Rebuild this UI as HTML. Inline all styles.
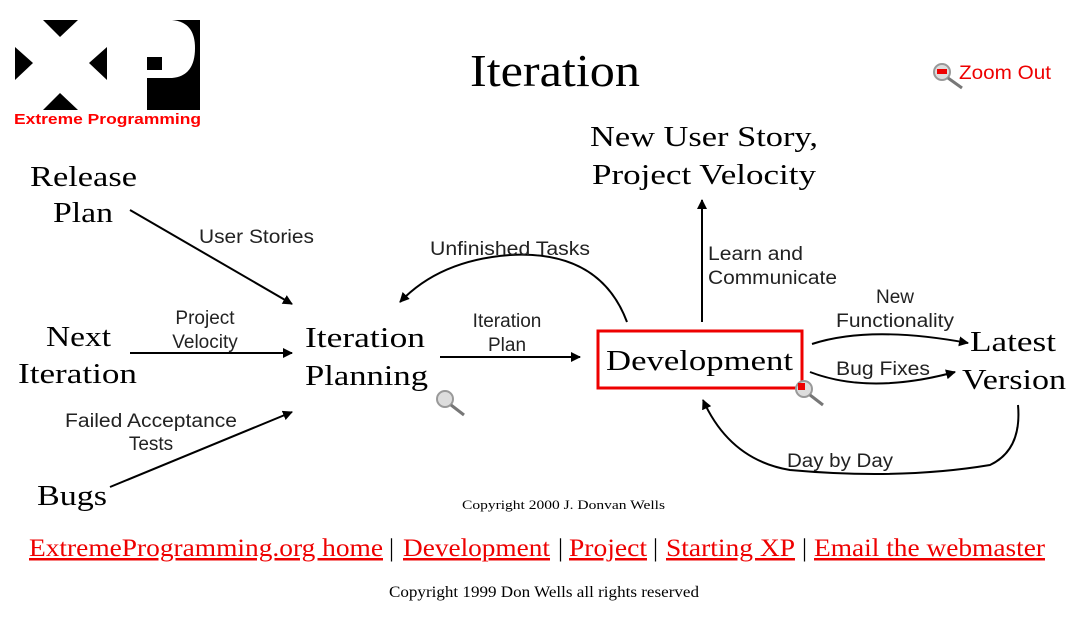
<!DOCTYPE html>
<html><head><meta charset="utf-8"><style>
html,body{margin:0;padding:0;background:#fff;width:1068px;height:623px;overflow:hidden}
svg{position:absolute;left:0;top:0}
.s{font-family:"Liberation Serif",serif;fill:#000}
.a{font-family:"Liberation Sans",sans-serif;fill:#222;font-size:19px}
</style></head><body>
<svg width="1068" height="623" viewBox="0 0 1068 623">
<defs><marker id="ar" markerWidth="10" markerHeight="10" refX="9" refY="5" orient="auto" markerUnits="userSpaceOnUse"><path d="M0,0 L10,5 L0,10 z" fill="#000"/></marker></defs>
<!-- logo -->
<polygon points="43,20 78,20 60,37" fill="#000"/>
<polygon points="15,47 15,80 33,63" fill="#000"/>
<polygon points="107,47 107,80 89,63" fill="#000"/>
<polygon points="43,110 78,110 60,93" fill="#000"/>
<rect x="147" y="20" width="53" height="90" fill="#000"/>
<path d="M147,20 L172,20 Q195,22 195,48 Q195,76 172,78 L147,78 Z" fill="#fff"/>
<rect x="147" y="57" width="15" height="13" fill="#000"/>
<text x="14" y="124" font-family="Liberation Sans,sans-serif" font-weight="bold" font-size="15" fill="#f00" textLength="187" lengthAdjust="spacingAndGlyphs">Extreme Programming</text>
<text class="s" x="470" y="86" font-size="46" textLength="170" lengthAdjust="spacingAndGlyphs">Iteration</text>
<!-- zoom out -->
<circle cx="942" cy="72" r="8" fill="#ddd" stroke="#999" stroke-width="2"/><rect x="937" y="69" width="10" height="5" fill="#e00"/><line x1="948" y1="78" x2="962" y2="88" stroke="#777" stroke-width="3"/>
<text x="959" y="79" font-family="Liberation Sans,sans-serif" font-size="19" fill="#e00" textLength="92" lengthAdjust="spacingAndGlyphs">Zoom Out</text>
<!-- nodes -->
<g class="s" font-size="29" lengthAdjust="spacingAndGlyphs">
<text x="30" y="186" textLength="107" lengthAdjust="spacingAndGlyphs">Release</text><text x="53" y="222" textLength="60" lengthAdjust="spacingAndGlyphs">Plan</text>
<text x="46" y="346" textLength="65" lengthAdjust="spacingAndGlyphs">Next</text><text x="18" y="383" textLength="119" lengthAdjust="spacingAndGlyphs">Iteration</text>
<text x="37" y="505" textLength="70" lengthAdjust="spacingAndGlyphs">Bugs</text>
<text x="305" y="347" textLength="120" lengthAdjust="spacingAndGlyphs">Iteration</text><text x="305" y="385" textLength="123" lengthAdjust="spacingAndGlyphs">Planning</text>
<text x="590" y="146" textLength="228" lengthAdjust="spacingAndGlyphs">New User Story,</text><text x="592" y="184" textLength="224" lengthAdjust="spacingAndGlyphs">Project Velocity</text>
<text x="970" y="351" textLength="86" lengthAdjust="spacingAndGlyphs">Latest</text><text x="962" y="389" textLength="104" lengthAdjust="spacingAndGlyphs">Version</text>
</g>
<rect x="598" y="331" width="204" height="57" fill="none" stroke="#e00" stroke-width="3"/>
<text class="s" x="606" y="370" font-size="29" textLength="187" lengthAdjust="spacingAndGlyphs">Development</text>
<!-- arrows -->
<g stroke="#000" stroke-width="2" fill="none" marker-end="url(#ar)">
<line x1="130" y1="210" x2="292" y2="304"/>
<line x1="130" y1="353" x2="292" y2="353"/>
<line x1="110" y1="487" x2="292" y2="412"/>
<line x1="440" y1="357" x2="580" y2="357"/>
<line x1="702" y1="322" x2="702" y2="200"/>
<path d="M627,322 Q600,250 510,255 Q440,260 400,302"/>
<path d="M812,344 Q870,325 968,343"/>
<path d="M810,372 Q870,395 955,372"/>
<path d="M1018,405 Q1022,450 990,465 Q900,480 790,470 Q730,460 703,400"/>
</g>
<!-- labels -->
<text class="a" x="199" y="243" textLength="115" lengthAdjust="spacingAndGlyphs">User Stories</text>
<text class="a" x="205" y="324" text-anchor="middle">Project</text><text class="a" x="205" y="348" text-anchor="middle">Velocity</text>
<text class="a" x="65" y="427" textLength="172" lengthAdjust="spacingAndGlyphs">Failed Acceptance</text><text class="a" x="151" y="450" text-anchor="middle">Tests</text>
<text class="a" x="430" y="255" textLength="160" lengthAdjust="spacingAndGlyphs">Unfinished Tasks</text>
<text class="a" x="507" y="327" text-anchor="middle">Iteration</text><text class="a" x="507" y="351" text-anchor="middle">Plan</text>
<text class="a" x="708" y="260" textLength="95" lengthAdjust="spacingAndGlyphs">Learn and</text><text class="a" x="708" y="284" textLength="129" lengthAdjust="spacingAndGlyphs">Communicate</text>
<text class="a" x="895" y="303" text-anchor="middle">New</text><text class="a" x="836" y="327" textLength="118" lengthAdjust="spacingAndGlyphs">Functionality</text>
<text class="a" x="836" y="375" textLength="94" lengthAdjust="spacingAndGlyphs">Bug Fixes</text>
<text class="a" x="787" y="467" textLength="106" lengthAdjust="spacingAndGlyphs">Day by Day</text>
<!-- magnifiers -->
<circle cx="445" cy="399" r="8" fill="#ddd" stroke="#999" stroke-width="2"/><line x1="451" y1="405" x2="464" y2="415" stroke="#777" stroke-width="3"/>
<circle cx="804" cy="389" r="8" fill="#ddd" stroke="#999" stroke-width="2"/><rect x="798" y="383" width="7" height="7" fill="#e00"/><line x1="810" y1="395" x2="823" y2="405" stroke="#777" stroke-width="3"/>
<text class="s" x="462" y="509" font-size="13" fill="#333" textLength="203" lengthAdjust="spacingAndGlyphs">Copyright 2000 J. Donvan Wells</text>
<g font-family="Liberation Serif,serif" font-size="25">
<text x="29" y="556" fill="#e00" text-decoration="underline" textLength="354" lengthAdjust="spacingAndGlyphs">ExtremeProgramming.org home</text>
<text x="389" y="556">|</text>
<text x="403" y="556" fill="#e00" text-decoration="underline" textLength="147" lengthAdjust="spacingAndGlyphs">Development</text>
<text x="558" y="556">|</text>
<text x="569" y="556" fill="#e00" text-decoration="underline" textLength="78" lengthAdjust="spacingAndGlyphs">Project</text>
<text x="653" y="556">|</text>
<text x="666" y="556" fill="#e00" text-decoration="underline" textLength="129" lengthAdjust="spacingAndGlyphs">Starting XP</text>
<text x="802" y="556">|</text>
<text x="814" y="556" fill="#e00" text-decoration="underline" textLength="231" lengthAdjust="spacingAndGlyphs">Email the webmaster</text>
</g>
<text class="s" x="389" y="597" font-size="16" textLength="310" lengthAdjust="spacingAndGlyphs">Copyright 1999 Don Wells all rights reserved</text>
</svg>
</body></html>
